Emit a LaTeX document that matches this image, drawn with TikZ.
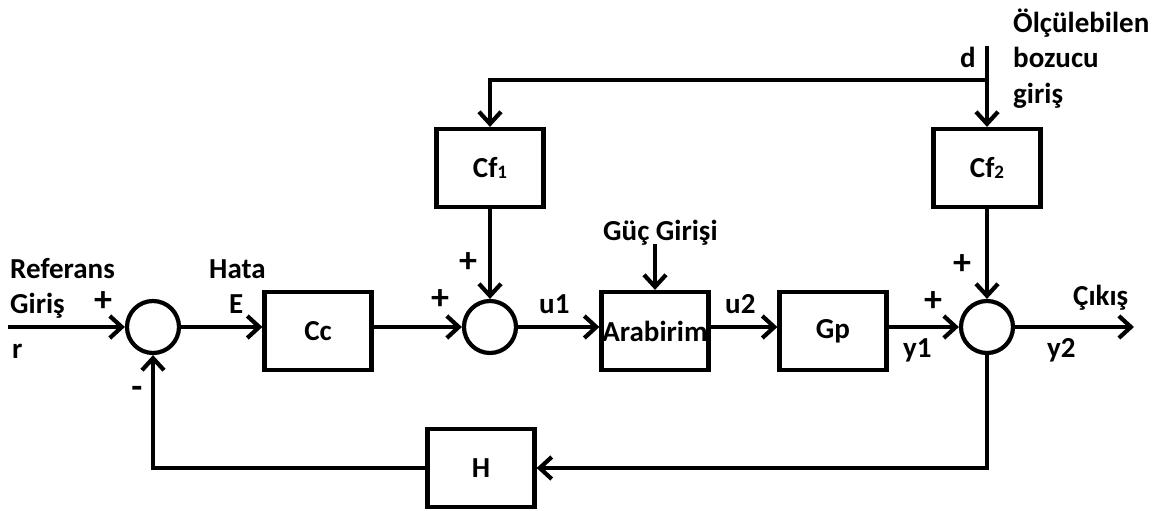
\documentclass[tikz,border=0pt]{standalone}
\usepackage{fontspec}
\setmainfont{Carlito}
\usetikzlibrary{arrows.meta,calc}
\begin{document}
\begin{tikzpicture}[x=1pt,y=-1pt,
  every node/.style={font=\fontsize{29}{33}\selectfont\bfseries},
  lw/.style={line width=4.2pt},
  blk/.style={draw,lw,rectangle,minimum width=107pt,minimum height=78pt,inner sep=0pt},
  sumc/.style={draw,lw,circle,minimum size=52pt,inner sep=0pt},
  arr/.style={lw,-{Straight Barb[length=12pt,width=22pt]}},
  lbl/.style={inner sep=0pt,anchor=base west},
  sgn/.style={inner sep=0pt,font=\fontsize{36}{36}\selectfont\bfseries}]
\useasboundingbox (0,0) rectangle (1160,511);
% blocks
\node[sumc] (s1) at (153,327) {};
\node[blk] (cc) at (318,331) {Cc};
\node[sumc] (s2) at (490,327) {};
\node[blk] (ar) at (655,331) {Arabirim};
\node[blk] (gp) at (833,331) {Gp};
\node[sumc] (s3) at (987,327) {};
\node[blk] (cf1) at (490,168) {Cf{\fontsize{19}{19}\selectfont\raisebox{-1pt}{1}}};
\node[blk] (cf2) at (987,168) {Cf{\fontsize{19}{19}\selectfont\raisebox{-1pt}{2}}};
\node[blk] (h) at (481,468) {H};
% free ends
\coordinate (rin) at (8,327);
\coordinate (yout) at (1134,327);
\coordinate (dtop) at (987,46);
\coordinate (dj) at (987,80);
\coordinate (gtop) at (655,244);
% connectors
\draw[arr] (rin) -- (s1.west);
\draw[arr] (s1.east) -- (s1.east -| cc.west);
\draw[arr] (s2.west -| cc.east) -- (s2.west);
\draw[arr] (s2.east) -- (s2.east -| ar.west);
\draw[arr] (s2.east -| ar.east) -- (s2.east -| gp.west);
\draw[arr] (s3.west -| gp.east) -- (s3.west);
\draw[arr] (s3.east) -- (yout);
\draw[arr] (s3.south) |- (h.east);
\draw[arr] (h.west) -| (s1.south);
\draw[arr] (dtop) -- (cf2.north);
\draw[arr] (dj) -| (cf1.north);
\draw[arr] (cf1.south) -- (s2.north);
\draw[arr] (cf2.south) -- (s3.north);
\draw[arr] (gtop) -- (gtop |- ar.north);
% labels
\node[lbl] (t1) at (10,278) {Referans};
\node[lbl] (t2) at (10,313) {Giriş};
\node[lbl] (t3) at (12,358) {r};
\node[lbl] (t4) at (209,278) {Hata};
\node[lbl] (t5) at (229,313) {E};
\node[lbl] (t6) at (539,313) {u1};
\node[lbl] (t7) at (725,313) {u2};
\node[lbl] (t8) at (603,240) {Güç Girişi};
\node[lbl] (t9) at (903,357) {y1};
\node[lbl] (t10) at (1047,357) {y2};
\node[lbl] (t11) at (1073,305) {Çıkış};
\node[lbl] (t12) at (960,68) {d};
\node[lbl] (t13) at (1013,33) {Ölçülebilen};
\node[lbl] (t14) at (1013,68) {bozucu};
\node[lbl] (t15) at (1013,103) {giriş};
% signs
\node[sgn] (p1) at (103,302) {+};
\node[sgn] (m1) at (137,392) {-};
\node[sgn] (p2) at (440,300) {+};
\node[sgn] (p3) at (468,263) {+};
\node[sgn] (p4) at (933,302) {+};
\node[sgn] (p5) at (962,265) {+};
\end{tikzpicture}
\end{document}
